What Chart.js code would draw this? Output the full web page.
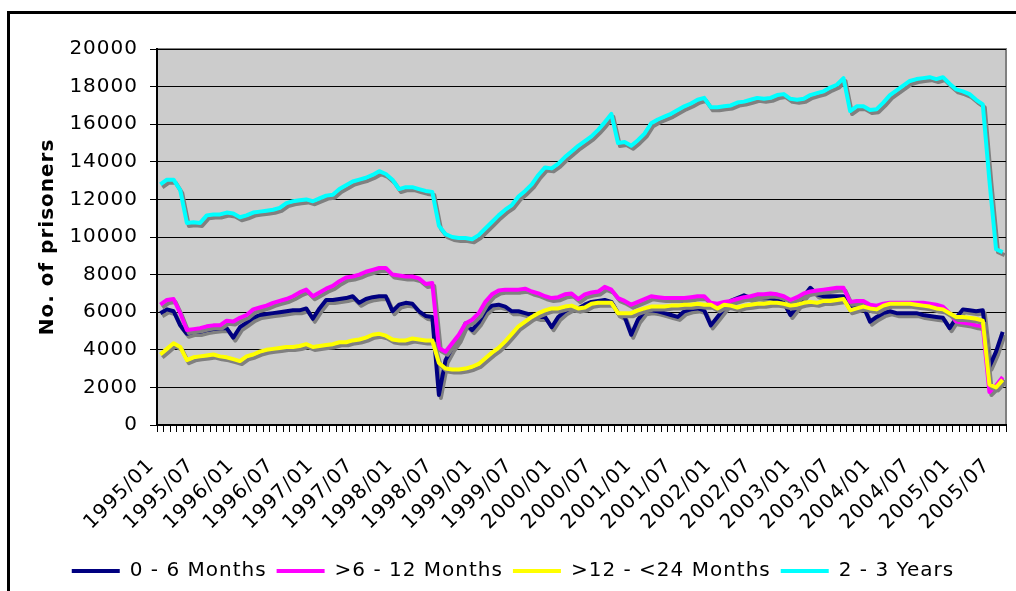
<!DOCTYPE html>
<html>
<head>
<meta charset="utf-8">
<script src="https://cdn.jsdelivr.net/npm/chart.js@4/dist/chart.umd.min.js"></script>
<style>
  html, body { margin: 0; padding: 0; background: #fff; overflow: hidden; }
  #frame { position: absolute; left: 7px; top: 11px; width: 1200px; height: 800px; border: 3px solid #000; }
  #grafico { position: absolute; left: 0; top: 0; }
</style>
</head>
<body>
<div id="frame"></div>
<canvas id="grafico" width="1016" height="591"></canvas>
<script>
// months 1995/01 .. 2005/08
const anoInicio = 1995;
const totalMeses = 128;
const meses = [];
for (let i = 0; i < totalMeses; i++) {
    meses.push(anoInicio + Math.floor(i / 12) + "/" + String(i % 12 + 1).padStart(2, "0"));
}

const series = ["0 - 6 Months", ">6 - 12 Months", ">12 - <24 Months", "2 - 3 Years"];

let ate6meses = [
    5950, 6150, 6050, 5300, 4850, 4950, 4950, 5050, 5100, 5150, 5150, 4650,
    5200, 5450, 5700, 5850, 5900, 5950, 6000, 6050, 6100, 6100, 6200, 5650,
    6200, 6650, 6650, 6700, 6750, 6850, 6500, 6700, 6800, 6850, 6850, 6050,
    6400, 6500, 6450, 6050, 5800, 5750, 1600, 3450, 4100, 4600, 5400, 5050,
    5450, 6050, 6350, 6400, 6300, 6050, 6050, 5950, 5850, 5750, 5750, 5200,
    5750, 6050, 6250, 6200, 6400, 6550, 6600, 6650, 6550, 5950, 5750, 4800,
    5600, 6050, 6100, 6050, 5950, 5850, 5750, 6050, 6150, 6200, 6100, 5300,
    5750, 6200, 6600, 6750, 6900, 6750, 6850, 6800, 6750, 6650, 6500, 5850,
    6300, 6850, 7300, 6950, 6850, 6850, 6850, 6850, 6300, 6400, 6300, 5500,
    5750, 5950, 6050, 5950, 5950, 5950, 5950, 5850, 5800, 5750, 5700, 5150,
    5700, 6150, 6100, 6050, 6100, 3100, 3900, 4950
];

let de6a12 = [
    6400, 6650, 6700, 5950, 5050, 5100, 5150, 5250, 5300, 5300, 5550, 5500,
    5700, 5850, 6150, 6250, 6350, 6500, 6600, 6700, 6850, 7050, 7200, 6850,
    7050, 7250, 7400, 7650, 7850, 7900, 8000, 8150, 8250, 8350, 8350, 8000,
    7950, 7900, 7900, 7800, 7500, 7550, 4100, 3900, 4350, 4800, 5400, 5600,
    5950, 6550, 6950, 7150, 7200, 7200, 7200, 7250, 7100, 7000, 6850, 6750,
    6800, 6950, 7000, 6700, 6950, 7050, 7100, 7350, 7200, 6750, 6600, 6400,
    6550, 6700, 6850, 6800, 6750, 6750, 6750, 6750, 6800, 6850, 6850, 6500,
    6450, 6550, 6600, 6700, 6800, 6850, 6950, 6950, 7000, 6950, 6850, 6650,
    6800, 7000, 7100, 7150, 7200, 7250, 7300, 7300, 6550, 6600, 6600, 6400,
    6350, 6450, 6500, 6500, 6500, 6500, 6500, 6500, 6450, 6400, 6300, 5950,
    5500, 5450, 5400, 5300, 5250, 1750, 2100, 2550
];

let de12a24 = [
    3750, 4050, 4350, 4150, 3450, 3600, 3650, 3700, 3750, 3650, 3600, 3500,
    3400, 3650, 3750, 3900, 4000, 4050, 4100, 4150, 4150, 4200, 4300, 4150,
    4200, 4250, 4300, 4400, 4400, 4500, 4550, 4650, 4800, 4850, 4750, 4550,
    4500, 4500, 4600, 4550, 4500, 4500, 3300, 3000, 2950, 2950, 3000, 3100,
    3250, 3550, 3850, 4100, 4450, 4850, 5250, 5500, 5750, 5950, 6100, 6200,
    6200, 6300, 6350, 6200, 6250, 6450, 6500, 6500, 6500, 5950, 5950, 5950,
    6100, 6200, 6300, 6300, 6300, 6350, 6350, 6400, 6400, 6450, 6400, 6400,
    6200, 6400, 6350, 6250, 6350, 6400, 6450, 6450, 6500, 6500, 6450, 6350,
    6400, 6500, 6550, 6500, 6600, 6600, 6650, 6700, 6100, 6200, 6300, 6200,
    6150, 6350, 6450, 6450, 6450, 6450, 6400, 6350, 6300, 6200, 6150, 5950,
    5750, 5750, 5700, 5650, 5550, 2150, 2000, 2400
];

let de2a3anos = [
    12800, 13050, 13050, 12500, 10750, 10780, 10750, 11150, 11200, 11200, 11300, 11250,
    11050, 11150, 11300, 11350, 11400, 11450, 11550, 11800, 11900, 11950, 12000, 11900,
    12050, 12200, 12250, 12550, 12750, 12950, 13050, 13150, 13300, 13500, 13350, 13050,
    12550, 12650, 12650, 12550, 12450, 12400, 10600, 10150, 10000, 9950, 9950, 9880,
    10100, 10450, 10800, 11150, 11450, 11700, 12150, 12450, 12800, 13300, 13700, 13650,
    13900, 14250, 14550, 14850, 15100, 15350, 15700, 16100, 16550, 15000, 15050, 14850,
    15150, 15500, 16050, 16250, 16400, 16550, 16750, 16950, 17100, 17300, 17400, 16900,
    16900, 16950, 17000, 17150, 17200, 17300, 17400, 17350, 17400, 17550, 17600, 17350,
    17300, 17350, 17550, 17650, 17750, 17950, 18100, 18450, 16700, 16950, 16950, 16750,
    16800, 17150, 17550, 17800, 18050, 18300, 18400, 18450, 18500, 18400, 18500, 18150,
    17850, 17750, 17600, 17300, 17050, 13000, 9350, 9200
];

const cores = ["#000080", "#ff00ff", "#ffff00", "#00ffff"];

// excel style: grey plot area, spaced text, line shadows
const fundo = {
    id: "fundo",
    beforeUpdate(chart) {
        chart.ctx.letterSpacing = "1px";
    },
    beforeDraw(chart) {
        const c = chart.ctx;
        const a = chart.chartArea;
        c.letterSpacing = "1px";
        c.save();
        c.fillStyle = "#cccccc";
        c.fillRect(a.left, a.top, a.right - a.left, a.bottom - a.top);
        c.strokeStyle = "#808080";
        c.lineWidth = 2;
        c.strokeRect(a.left, a.top, a.right - a.left, a.bottom - a.top);
        c.restore();
    },
    beforeDatasetsDraw(chart) {
        const c = chart.ctx;
        c.save();
        c.shadowColor = "#808080";
        c.shadowOffsetX = 2;
        c.shadowOffsetY = 3;
        c.shadowBlur = 0;
    },
    afterDatasetsDraw(chart) {
        chart.ctx.restore();
    },
};

Chart.defaults.font.family = "'DejaVu Sans', Verdana, sans-serif";
Chart.defaults.font.size = 20;
Chart.defaults.color = "#000";

const ctx = document.getElementById("grafico");

new Chart(ctx, {
    type: "line",
    data: {
        labels: meses,
        datasets: [
            { label: series[0], data: ate6meses, borderColor: cores[0], backgroundColor: cores[0], borderWidth: 4, order: 4 },
            { label: series[1], data: de6a12, borderColor: cores[1], backgroundColor: cores[1], borderWidth: 4, order: 3 },
            { label: series[2], data: de12a24, borderColor: cores[2], backgroundColor: cores[2], borderWidth: 4, order: 2 },
            { label: series[3], data: de2a3anos, borderColor: cores[3], backgroundColor: cores[3], borderWidth: 4, order: 1 },
        ],
    },
    options: {
        responsive: false,
        animation: false,
        layout: {
            padding: { left: 20, top: 49, right: 10, bottom: 0 },
        },
        elements: {
            line: { borderWidth: 4, tension: 0, borderJoinStyle: "round", fill: false },
            point: { radius: 0, hoverRadius: 0 },
        },
        plugins: {
            tooltip: { enabled: false },
            legend: {
                position: "bottom",
                labels: {
                    usePointStyle: true,
                    pointStyle: "line",
                    pointStyleWidth: 48,
                    padding: 10,
                    color: "#000",
                    font: { size: 20 },
                    sort: (a, b) => a.datasetIndex - b.datasetIndex,
                },
            },
        },
        scales: {
            x: {
                offset: true,
                grid: {
                    offset: true,
                    drawOnChartArea: false,
                    drawTicks: true,
                    tickLength: 7,
                    color: "#000",
                },
                border: { color: "#000", width: 2 },
                ticks: {
                    autoSkip: false,
                    minRotation: 45,
                    maxRotation: 45,
                    padding: 22,
                    labelOffset: -9,
                    color: "#000",
                    callback: function (v, i) {
                        return i % 6 === 0 ? meses[i] : "";
                    },
                },
                afterFit(scale) {
                    scale.height = 126;
                    scale.paddingLeft = 0;
                    scale.paddingRight = 0;
                },
            },
            y: {
                min: 0,
                max: 20000,
                grid: { color: "#000", lineWidth: 1, tickLength: 7 },
                border: { color: "#000", width: 2 },
                ticks: {
                    stepSize: 2000,
                    padding: 12,
                    color: "#000",
                    callback: (v) => String(v),
                },
                title: {
                    display: true,
                    text: "No. of prisoners",
                    color: "#000",
                    font: { size: 20, weight: "bold" },
                    padding: { top: 16, bottom: 0 },
                },
                afterFit(scale) {
                    scale.width = 137;
                    scale.paddingTop = 0;
                    scale.paddingBottom = 0;
                },
            },
        },
    },
    plugins: [fundo],
});
</script>
</body>
</html>
